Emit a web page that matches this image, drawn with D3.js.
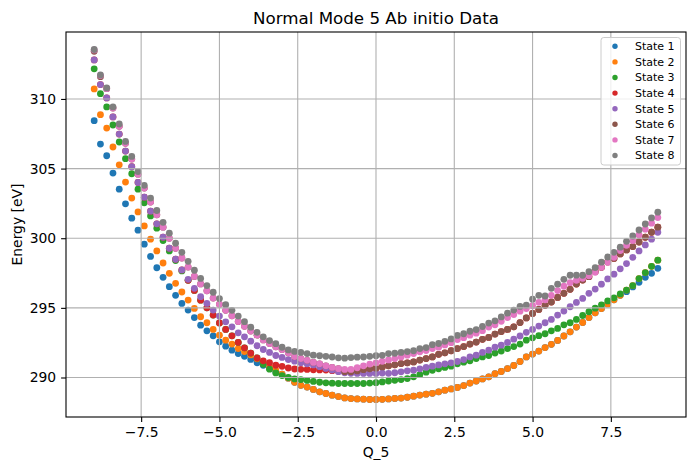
<!DOCTYPE html>
<html>
<head>
<meta charset="utf-8">
<script src="https://cdn.jsdelivr.net/npm/d3@7"></script>
<style>
  body { margin: 0; background: #fff; }
  text { font-family: 'DejaVu Sans', sans-serif; }
</style>
</head>
<body>
<div id="grafico"></div>
<script>
// Normal coordinate Q_5
const q = [
  -9.0, -8.8, -8.6, -8.4, -8.2, -8.0, -7.8, -7.6, -7.4, -7.2,
  -7.0, -6.8, -6.6, -6.4, -6.2, -6.0, -5.8, -5.6, -5.4, -5.2,
  -5.0, -4.8, -4.6, -4.4, -4.2, -4.0, -3.8, -3.6, -3.4, -3.2,
  -3.0, -2.8, -2.6, -2.4, -2.2, -2.0, -1.8, -1.6, -1.4, -1.2,
  -1.0, -0.8, -0.6, -0.4, -0.2, 0.0, 0.2, 0.4, 0.6, 0.8,
  1.0, 1.2, 1.4, 1.6, 1.8, 2.0, 2.2, 2.4, 2.6, 2.8,
  3.0, 3.2, 3.4, 3.6, 3.8, 4.0, 4.2, 4.4, 4.6, 4.8,
  5.0, 5.2, 5.4, 5.6, 5.8, 6.0, 6.2, 6.4, 6.6, 6.8,
  7.0, 7.2, 7.4, 7.6, 7.8, 8.0, 8.2, 8.4, 8.6, 8.8,
  9.0
];

// Energies [eV] per state
const state1 = [
  308.44, 306.76, 305.92, 304.68, 303.52, 302.47, 301.44, 300.58, 299.57, 298.69,
  297.88, 297.19, 296.52, 295.90, 295.32, 294.84, 294.30, 293.76, 293.35, 292.99,
  292.56, 292.25, 291.96, 291.72, 291.52, 291.30, 291.06, 290.88, 290.65, 290.42,
  290.24, 289.95, 289.66, 289.44, 289.31, 289.14, 288.97, 288.85, 288.73, 288.63,
  288.53, 288.49, 288.46, 288.44, 288.42, 288.42, 288.43, 288.46, 288.50, 288.52,
  288.58, 288.66, 288.74, 288.80, 288.86, 288.97, 289.09, 289.18, 289.28, 289.42,
  289.60, 289.75, 289.90, 290.05, 290.27, 290.43, 290.64, 290.86, 291.15, 291.48,
  291.68, 291.90, 292.15, 292.38, 292.66, 292.98, 293.28, 293.62, 293.95, 294.30,
  294.64, 294.95, 295.28, 295.58, 295.90, 296.16, 296.50, 296.84, 297.19, 297.48,
  297.84
];
const state2 = [
  310.72, 308.87, 307.91, 306.55, 305.27, 304.03, 302.88, 301.89, 300.88, 299.93,
  299.09, 298.22, 297.48, 296.76, 296.14, 295.56, 294.96, 294.36, 293.93, 293.45,
  293.04, 292.68, 292.40, 292.08, 291.86, 291.62, 291.34, 291.05, 290.76, 290.53,
  290.24, 289.95, 289.66, 289.44, 289.31, 289.14, 288.97, 288.85, 288.73, 288.63,
  288.53, 288.49, 288.46, 288.44, 288.42, 288.42, 288.43, 288.46, 288.50, 288.52,
  288.58, 288.66, 288.74, 288.80, 288.86, 288.97, 289.09, 289.18, 289.28, 289.42,
  289.60, 289.75, 289.90, 290.05, 290.27, 290.43, 290.64, 290.86, 291.15, 291.48,
  291.68, 291.90, 292.15, 292.38, 292.66, 292.98, 293.28, 293.62, 293.95, 294.30,
  294.64, 294.95, 295.28, 295.58, 295.90, 296.28, 296.60, 297.10, 297.53, 297.98,
  298.42
];
const state3 = [
  312.16, 310.38, 309.43, 308.13, 306.91, 305.71, 304.63, 303.52, 302.54, 301.60,
  300.72, 299.83, 299.09, 298.40, 297.65, 296.98, 296.25, 295.55, 295.00, 294.48,
  293.92, 293.45, 292.99, 292.52, 292.13, 291.75, 291.40, 290.95, 290.60, 290.33,
  290.14, 290.00, 289.90, 289.85, 289.79, 289.72, 289.66, 289.62, 289.59, 289.57,
  289.57, 289.57, 289.57, 289.57, 289.60, 289.63, 289.68, 289.75, 289.80, 289.85,
  289.92, 290.05, 290.20, 290.38, 290.52, 290.62, 290.72, 290.81, 290.98, 291.10,
  291.20, 291.36, 291.48, 291.58, 291.75, 291.90, 292.08, 292.22, 292.40, 292.68,
  292.85, 293.00, 293.14, 293.35, 293.52, 293.78, 293.93, 294.17, 294.45, 294.72,
  294.98, 295.22, 295.50, 295.72, 296.00, 296.28, 296.60, 297.10, 297.53, 297.98,
  298.42
];
const state4 = [
  312.80, 311.03, 310.07, 308.71, 307.48, 306.26, 305.13, 304.00, 302.95, 301.94,
  301.03, 300.07, 299.28, 298.49, 297.72, 296.98, 296.25, 295.55, 295.00, 294.48,
  293.92, 293.45, 292.99, 292.52, 292.13, 291.75, 291.40, 291.20, 291.06, 290.88,
  290.80, 290.68, 290.61, 290.59, 290.58, 290.55, 290.54, 290.53, 290.49, 290.46,
  290.42, 290.41, 290.47, 290.56, 290.62, 290.67, 290.76, 290.84, 290.91, 291.00,
  291.05, 291.12, 291.25, 291.36, 291.48, 291.66, 291.77, 291.92, 292.08, 292.22,
  292.40, 292.54, 292.74, 292.88, 293.12, 293.30, 293.45, 293.64, 293.94, 294.28,
  294.60, 294.89, 295.18, 295.42, 295.75, 296.04, 296.33, 296.71, 297.00, 297.24,
  297.60, 297.91, 298.30, 298.55, 298.87, 299.16, 299.40, 299.73, 300.07, 300.43,
  300.79
];
const state5 = [
  312.80, 311.03, 310.07, 308.71, 307.48, 306.26, 305.13, 304.00, 302.95, 301.94,
  301.03, 300.07, 299.28, 298.49, 297.72, 297.05, 296.40, 295.80, 295.32, 294.84,
  294.41, 294.00, 293.64, 293.21, 292.92, 292.61, 292.28, 292.01, 291.80, 291.58,
  291.44, 291.29, 291.17, 291.05, 290.98, 290.90, 290.78, 290.65, 290.53, 290.42,
  290.34, 290.30, 290.29, 290.29, 290.29, 290.29, 290.32, 290.30, 290.34, 290.41,
  290.48, 290.52, 290.62, 290.72, 290.81, 290.90, 290.98, 291.05, 291.15, 291.29,
  291.48, 291.60, 291.80, 291.96, 292.18, 292.32, 292.52, 292.75, 292.98, 293.24,
  293.45, 293.69, 293.93, 294.17, 294.48, 294.77, 295.08, 295.39, 295.68, 296.04,
  296.35, 296.70, 297.08, 297.42, 297.80, 298.18, 298.63, 299.09, 299.52, 299.93,
  300.43
];
const state6 = [
  313.42, 311.60, 310.74, 309.35, 308.04, 306.81, 305.68, 304.60, 303.60, 302.60,
  301.68, 300.79, 299.99, 299.28, 298.58, 297.93, 297.26, 296.72, 296.22, 295.70,
  295.25, 294.82, 294.43, 294.02, 293.68, 293.34, 293.04, 292.70, 292.44, 292.20,
  292.01, 291.77, 291.50, 291.36, 291.23, 291.08, 290.98, 290.84, 290.72, 290.63,
  290.42, 290.41, 290.47, 290.56, 290.62, 290.67, 290.76, 290.84, 290.91, 291.00,
  291.05, 291.12, 291.25, 291.36, 291.48, 291.66, 291.77, 291.92, 292.08, 292.22,
  292.40, 292.54, 292.74, 292.88, 293.12, 293.30, 293.45, 293.64, 293.94, 294.28,
  294.60, 294.89, 295.18, 295.42, 295.75, 296.04, 296.33, 296.71, 297.00, 297.24,
  297.60, 297.91, 298.30, 298.55, 298.87, 299.16, 299.40, 299.73, 300.07, 300.43,
  300.79
];
const state7 = [
  313.52, 311.68, 310.74, 309.35, 308.04, 306.81, 305.68, 304.60, 303.60, 302.60,
  301.68, 300.79, 299.99, 299.28, 298.58, 297.93, 297.26, 296.72, 296.22, 295.70,
  295.25, 294.82, 294.43, 294.02, 293.68, 293.34, 293.04, 292.70, 292.44, 292.20,
  292.01, 291.77, 291.50, 291.36, 291.23, 291.08, 290.98, 290.84, 290.72, 290.63,
  290.58, 290.58, 290.70, 290.84, 290.96, 291.05, 291.16, 291.26, 291.36, 291.48,
  291.60, 291.72, 291.84, 291.93, 292.08, 292.18, 292.34, 292.50, 292.72, 292.86,
  293.04, 293.18, 293.36, 293.62, 293.78, 294.04, 294.30, 294.52, 294.76, 294.95,
  295.15, 295.40, 295.58, 295.90, 296.24, 296.55, 296.81, 296.98, 297.12, 297.30,
  297.55, 297.91, 298.27, 298.63, 299.11, 299.49, 299.83, 300.24, 300.65, 301.08,
  301.48
];
const state8 = [
  313.55, 311.72, 310.79, 309.43, 308.20, 306.95, 305.87, 304.79, 303.80, 302.88,
  301.99, 301.14, 300.36, 299.64, 298.99, 298.34, 297.70, 297.11, 296.60, 296.12,
  295.67, 295.23, 294.82, 294.41, 294.01, 293.61, 293.24, 292.92, 292.65, 292.43,
  292.17, 291.98, 291.87, 291.80, 291.72, 291.60, 291.56, 291.52, 291.47, 291.41,
  291.39, 291.43, 291.46, 291.47, 291.52, 291.57, 291.59, 291.72, 291.74, 291.80,
  291.86, 291.92, 292.08, 292.15, 292.36, 292.44, 292.60, 292.77, 293.02, 293.14,
  293.32, 293.44, 293.66, 293.91, 294.07, 294.35, 294.62, 294.84, 295.10, 295.20,
  295.62, 295.90, 295.85, 296.40, 296.70, 297.05, 297.34, 297.35, 297.34, 297.60,
  297.89, 298.28, 298.65, 298.99, 299.36, 299.78, 300.16, 300.59, 301.02, 301.46,
  301.87
];

const estados = [state1, state2, state3, state4, state5, state6, state7, state8];
const nomes = ['State 1', 'State 2', 'State 3', 'State 4', 'State 5', 'State 6', 'State 7', 'State 8'];
const cores = ['#1f77b4', '#ff7f0e', '#2ca02c', '#d62728', '#9467bd', '#8c564b', '#e377c2', '#7f7f7f'];

const xTicks = [-7.5, -5.0, -2.5, 0.0, 2.5, 5.0, 7.5];
const yTicks = [290, 295, 300, 305, 310];

// Layout
const largura = 695;
const altura = 470;
const margem = { top: 32, right: 9, bottom: 53, left: 66 };
const w = largura - margem.left - margem.right;
const h = altura - margem.top - margem.bottom;

const svg = d3
  .select('#grafico')
  .append('svg')
  .attr('width', largura)
  .attr('height', altura)
  .style('background', '#fff');

const g = svg.append('g').attr('transform', `translate(${margem.left},${margem.top})`);

// Escalas com 5% de folga, como no matplotlib
const [q0, q1] = d3.extent(q);
const padX = (q1 - q0) * 0.05;
const x = d3.scaleLinear().domain([q0 - padX, q1 + padX]).range([0, w]);

const [e0, e1] = d3.extent(estados.flat());
const padY = (e1 - e0) * 0.05;
const y = d3.scaleLinear().domain([e0 - padY, e1 + padY]).range([h, 0]);

// Pontos, um estado por vez
estados.forEach((serie, k) => {
  g.append('g')
    .selectAll('circle')
    .data(q.map((v, i) => ({ q: v, e: serie[i] })))
    .enter()
    .append('circle')
    .attr('cx', (d) => x(d.q))
    .attr('cy', (d) => y(d.e))
    .attr('r', 3.4)
    .attr('fill', cores[k]);
});

// Grade
const grade = g.append('g').attr('stroke', '#b0b0b0').attr('stroke-width', 1.1);
grade
  .selectAll('.gx')
  .data(xTicks)
  .enter()
  .append('line')
  .attr('x1', (d) => x(d))
  .attr('x2', (d) => x(d))
  .attr('y1', 0)
  .attr('y2', h);
grade
  .selectAll('.gy')
  .data(yTicks)
  .enter()
  .append('line')
  .attr('x1', 0)
  .attr('x2', w)
  .attr('y1', (d) => y(d))
  .attr('y2', (d) => y(d));

// Eixos
const eixoX = g
  .append('g')
  .attr('transform', `translate(0,${h})`)
  .call(
    d3
      .axisBottom(x)
      .tickValues(xTicks)
      .tickSize(4.9)
      .tickPadding(4.9)
      .tickFormat((d) => d.toFixed(1).replace('-', '\u2212'))
  );

const eixoY = g.append('g').call(
  d3.axisLeft(y).tickValues(yTicks).tickSize(4.9).tickPadding(4.9).tickFormat((d) => d)
);

[eixoX, eixoY].forEach((eixo) => {
  eixo.select('.domain').remove();
  eixo.attr('font-family', "'DejaVu Sans', sans-serif").attr('font-size', 13.9);
  eixo.selectAll('line').attr('stroke', '#000').attr('stroke-width', 1.1);
  eixo.selectAll('text').attr('fill', '#000');
});

// Moldura
g.append('rect')
  .attr('width', w)
  .attr('height', h)
  .attr('fill', 'none')
  .attr('stroke', '#000')
  .attr('stroke-width', 1.1);

// Titulos
svg
  .append('text')
  .attr('x', margem.left + w / 2)
  .attr('y', 24)
  .attr('text-anchor', 'middle')
  .attr('font-size', 16.7)
  .text('Normal Mode 5 Ab initio Data');

svg
  .append('text')
  .attr('x', margem.left + w / 2)
  .attr('y', 457)
  .attr('text-anchor', 'middle')
  .attr('font-size', 13.9)
  .text('Q_5');

svg
  .append('text')
  .attr('transform', `translate(22,${margem.top + h / 2}) rotate(-90)`)
  .attr('text-anchor', 'middle')
  .attr('font-size', 13.9)
  .text('Energy [eV]');

// Legenda
const leg = svg.append('g').attr('transform', 'translate(601,37.5)');
leg
  .append('rect')
  .attr('width', 79.5)
  .attr('height', 127.5)
  .attr('rx', 2.8)
  .attr('fill', '#fff')
  .attr('fill-opacity', 0.8)
  .attr('stroke', '#cccccc')
  .attr('stroke-width', 1);

const itens = leg
  .selectAll('.item')
  .data(nomes)
  .enter()
  .append('g')
  .attr('class', 'item')
  .attr('transform', (d, i) => `translate(0,${8.8 + i * 15.6})`);

itens
  .append('circle')
  .attr('cx', 14)
  .attr('cy', 0)
  .attr('r', 2.7)
  .attr('fill', (d, i) => cores[i]);

itens
  .append('text')
  .attr('x', 34)
  .attr('y', 0)
  .attr('dy', '0.35em')
  .attr('font-size', 11)
  .text((d) => d);
</script>
</body>
</html>
